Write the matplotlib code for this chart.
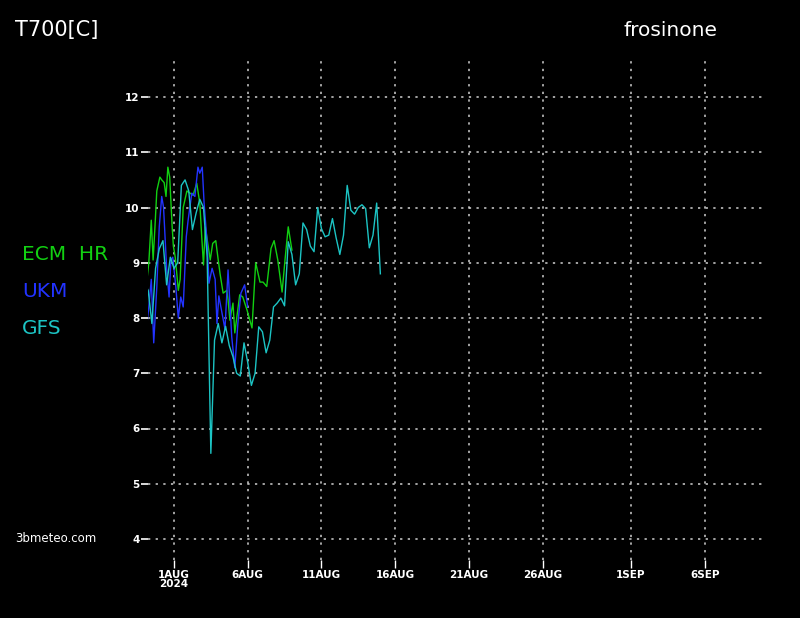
import numpy as np
import matplotlib
matplotlib.use('Agg')
import matplotlib.pyplot as plt

# saat: 30 Temmuz 00Z'den itibaren
ecm_saat = [0, 4, 7, 11, 14, 17, 20, 25, 28, 32, 35, 38, 41, 45, 47, 50, 53, 55, 58,
            63, 69, 74, 79, 85, 90, 93, 96, 99, 107, 111, 116, 120, 123, 128, 134, 136,
            139, 144, 147, 155, 160, 167, 175, 181, 188, 193, 199, 206, 211, 217, 224,
            229, 234, 240]
ecm_t700 = [8.74, 8.7, 9.0, 9.77, 9.05, 9.65, 10.3, 10.55, 10.5, 10.45, 10.2, 10.73,
            10.55, 9.65, 9.3, 9.1, 8.75, 8.5, 8.7, 10.0, 10.3, 10.26, 10.22, 10.44,
            10.08, 9.5, 8.96, 9.65, 9.05, 9.35, 9.4, 9.05, 8.8, 8.45, 8.5, 8.33, 7.96,
            8.27, 7.73, 8.42, 8.38, 8.14, 7.82, 9.0, 8.65, 8.65, 8.57, 9.26, 9.4, 9.05,
            8.47, 9.08, 9.65, 9.23]

ukm_saat = [0, 4, 7, 11, 15, 20, 24, 28, 31, 36, 40, 43, 46, 51, 55, 59, 63, 68, 71,
            77, 82, 87, 90, 94, 97, 102, 105, 110, 115, 118, 121, 126, 131, 136, 142,
            147, 152, 157, 163, 168]
ukm_t700 = [8.15, 7.9, 8.2, 8.7, 7.55, 8.56, 9.65, 10.2, 10.0, 8.9, 8.38, 9.05, 9.1,
            8.56, 8.0, 8.38, 8.2, 9.47, 9.77, 10.26, 10.2, 10.73, 10.62, 10.73, 10.08,
            9.35, 8.63, 8.9, 8.7, 7.9, 8.4, 8.1, 7.8, 8.87, 7.66, 7.1, 7.9, 8.45, 8.6,
            8.2]

# GFS 6 saatlik
gfs_t700 = [8.63, 8.5, 7.9, 8.9, 9.25, 9.4, 8.6, 9.1, 8.9, 9.0, 10.4, 10.5, 10.3, 9.6,
            9.9, 10.15, 10.0, 9.1, 5.55, 7.6, 7.9, 7.55, 7.85, 7.5, 7.3, 7.0, 6.95,
            7.55, 7.2, 6.78, 7.0, 7.84, 7.75, 7.37, 7.6, 8.2, 8.27, 8.36, 8.22, 9.38,
            9.15, 8.6, 8.8, 9.72, 9.6, 9.3, 9.2, 10.0, 9.62, 9.47, 9.5, 9.8, 9.45,
            9.15, 9.5, 10.4, 9.95, 9.88, 10.0, 10.05, 9.98, 9.27, 9.5, 10.08, 8.8]
gfs_saat = list(range(0, 6 * len(gfs_t700), 6))

tarih_gun = [0, 5, 10, 15, 20, 25, 31, 36]
tarih_etiket = ['1AUG\n2024', '6AUG', '11AUG', '16AUG', '21AUG', '26AUG', '1SEP', '6SEP']
y_seviye = [4, 5, 6, 7, 8, 9, 10, 11, 12]

renk_ecm = '#12d012'
renk_ukm = '#2233ff'
renk_gfs = '#1cc4c4'

dar_font = ['Liberation Sans Narrow', 'DejaVu Sans']


def gun(saat):
    return np.array(saat) / 24.0 - 2.0


fig = plt.figure(figsize=(8, 6.18), dpi=100, facecolor='black')
ax = fig.add_axes([148 / 800, 1 - 560 / 618, (762 - 148) / 800, (560 - 57) / 618])
ax.set_facecolor('black')

ax.plot(gun(ecm_saat), ecm_t700, color=renk_ecm, lw=1.0)
ax.plot(gun(ukm_saat), ukm_t700, color=renk_ukm, lw=1.0)
ax.plot(gun(gfs_saat), gfs_t700, color=renk_gfs, lw=1.0)

ax.set_xlim((148 - 174) / 14.74, (762 - 174) / 14.74)
ax.set_ylim(4 - 21 / 55.25, 12 + 40 / 55.25)

ax.set_yticks(y_seviye)
ax.set_yticklabels([str(v) for v in y_seviye], color='white', fontsize=7.5,
                   fontweight='bold', family=dar_font)
ax.set_xticks(tarih_gun)
ax.set_xticklabels(tarih_etiket, color='white', fontsize=7.5, fontweight='bold',
                   family=dar_font, linespacing=0.95)
ax.tick_params(axis='y', colors='white', length=5, width=1.2, pad=1)
ax.tick_params(axis='x', colors='white', length=6, width=1, pad=1)

for s in ax.spines.values():
    s.set_visible(False)
ax.grid(True, color='#d0d0d0', lw=1.1, linestyle=(0, (1.5, 3.5)))

fig.text(15 / 800, 1 - 30 / 618, 'T700[C]', color='white', fontsize=15,
         va='center', ha='left')
fig.text(624 / 800, 1 - 30 / 618, 'frosinone', color='white', fontsize=14.5,
         va='center', ha='left')

fig.text(22 / 800, 1 - 255 / 618, 'ECM  HR', color=renk_ecm, fontsize=14.5, va='center')
fig.text(22 / 800, 1 - 292 / 618, 'UKM', color=renk_ukm, fontsize=14.5, va='center')
fig.text(22 / 800, 1 - 328 / 618, 'GFS', color=renk_gfs, fontsize=14.5, va='center')

fig.text(15 / 800, 1 - 538 / 618, '3bmeteo.com', color='white', fontsize=8.5,
         va='center')

plt.savefig('out.png', dpi=100, facecolor='black')
